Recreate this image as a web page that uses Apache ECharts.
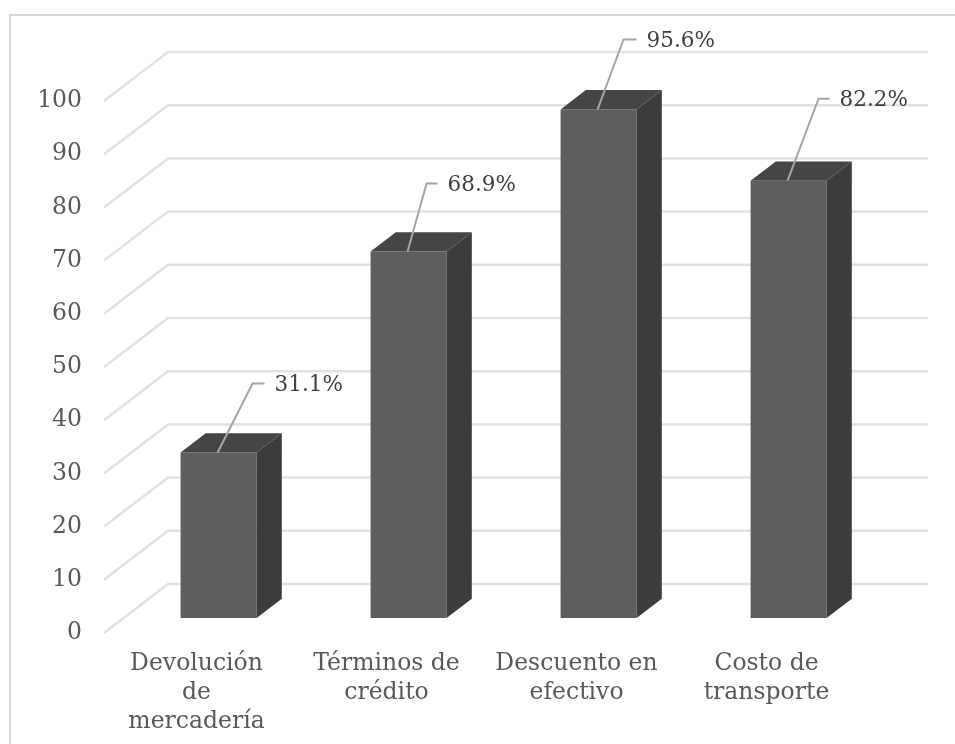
<!DOCTYPE html>
<html><head><meta charset="utf-8">
<style>html,body{margin:0;padding:0;background:#fff}#c{width:955px;height:744px}</style>
<script src="https://cdn.jsdelivr.net/npm/echarts@6/dist/echarts.min.js"></script>
</head><body><div id="c"></div>
<script>
const categories = ["Devolución\nde\nmercadería", "Términos de\ncrédito", "Descuento en\nefectivo", "Costo de\ntransporte"];
const values = [31.1, 68.9, 95.6, 82.2];
const percentLabels = ["31.1%", "68.9%", "95.6%", "82.2%"];
const yTicks = [0, 10, 20, 30, 40, 50, 60, 70, 80, 90, 100];

// Layout of the fake 3D projection
const DEPTH_X = 64, DEPTH_Y = 49, BAR_NEAR = 0.306, BAR_FAR = 0.70, BAR_WIDTH = 76;
const leaders = [[35, -69, 12], [19, -68, 11], [26, -70, 13], [31, -82, 11]];

const chart = echarts.init(document.getElementById('c'), null, {renderer: 'canvas'});
const font = 'DejaVu Serif';

function renderGrid(params, api) {
  const cs = params.coordSys;
  const y = api.coord([0, api.value(0)])[1];
  const x0 = cs.x;
  return {type: 'polyline', silent: true,
    shape: {points: [[x0, y], [x0 + DEPTH_X, y - DEPTH_Y], [x0 + cs.width + DEPTH_X, y - DEPTH_Y]]},
    style: {fill: null, stroke: '#e2e2e2', lineWidth: 2.5}};
}
function renderBar(params, api) {
  const i = params.dataIndex;
  const base = api.coord([i, 0]);
  const top = api.coord([i, api.value(1)]);
  const cx = base[0] + DEPTH_X * BAR_NEAR, dyN = DEPTH_Y * BAR_NEAR;
  const l = cx - BAR_WIDTH / 2, r = cx + BAR_WIDTH / 2;
  const yb = base[1] - dyN, yt = top[1] - dyN;
  const dx = DEPTH_X * (BAR_FAR - BAR_NEAR), dy = DEPTH_Y * (BAR_FAR - BAR_NEAR);
  const ld = leaders[i];
  const sx = cx - 1, ex = sx + ld[0], ey = yt + ld[1];
  return {type: 'group', children: [
    {type: 'polygon', shape: {points: [[l, yb], [r, yb], [r, yt], [l, yt]]}, style: {fill: '#5e5e5e'}},
    {type: 'polygon', shape: {points: [[l, yt], [r, yt], [r + dx, yt - dy], [l + dx, yt - dy]]}, style: {fill: '#454545'}},
    {type: 'polygon', shape: {points: [[r, yb], [r, yt], [r + dx, yt - dy], [r + dx, yb - dy]]}, style: {fill: '#3c3c3c'}},
    {type: 'polyline', shape: {points: [[sx, yt], [ex, ey], [ex + ld[2], ey]]}, style: {fill: null, stroke: '#a6a6a6', lineWidth: 2}},
    {type: 'text', style: {text: percentLabels[i], x: ex + ld[2] + 10, y: ey + 2, verticalAlign: 'middle', align: 'left', fill: '#404040', font: '21.5px "' + font + '"'}}
  ]};
}

chart.setOption({
  animation: false,
  backgroundColor: '#fff',
  graphic: [{type: 'rect', z: -10, shape: {x: 10, y: 15, width: 960, height: 760}, style: {fill: '#fff', stroke: '#d9d9d9', lineWidth: 2}}],
  grid: {left: 104, right: 91, top: 101, bottom: 111, containLabel: false},
  xAxis: {type: 'category', data: categories,
    axisLine: {show: false}, axisTick: {show: false}, splitLine: {show: false},
    axisLabel: {color: '#595959', fontFamily: font, fontSize: 23.5, lineHeight: 29, margin: 16, interval: 0, padding: [0, 5, 0, 0]}},
  yAxis: {type: 'value', min: 0, max: 100, interval: 10,
    axisLine: {show: false}, axisTick: {show: false}, splitLine: {show: false},
    axisLabel: {color: '#595959', fontFamily: font, fontSize: 23.5, margin: 22, padding: [10, 0, 0, 0]}},
  series: [
    {type: 'custom', coordinateSystem: 'cartesian2d', renderItem: renderGrid, data: yTicks.map(v => [v]), encode: {y: 0}, silent: true, z: 1},
    {type: 'custom', coordinateSystem: 'cartesian2d', renderItem: renderBar, data: values.map((v, i) => [i, v]), encode: {x: 0, y: 1}, z: 2}
  ]
});
</script></body></html>
